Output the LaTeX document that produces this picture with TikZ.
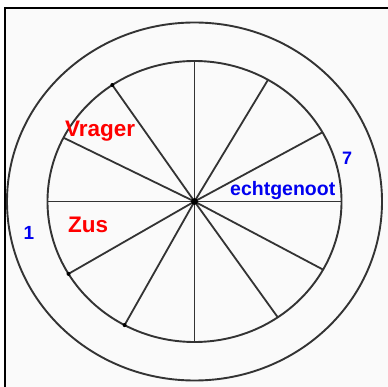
\documentclass[tikz,border=0pt]{standalone}
\usepackage{fontspec}
\setmainfont{Liberation Sans}
\usetikzlibrary{calc}
\definecolor{lbl red}{RGB}{255,0,0}
\definecolor{lbl blue}{RGB}{0,0,240}
\definecolor{paper}{RGB}{250,250,250}
\tikzset{
  ring/.style={draw=black!80, line width=1.9pt},
  spoke/.style={draw=black!80, line width=1.8pt},
  redlbl/.style={text=lbl red, font=\bfseries\fontsize{22.5}{24}\selectfont, inner sep=0pt, anchor=base west},
  bluelbl/.style={text=lbl blue, font=\bfseries\fontsize{19.5}{22}\selectfont, inner sep=0pt, anchor=base west},
  enddot/.style={fill=black, draw=none}
}
\begin{document}
\begin{tikzpicture}[x=1pt,y=-1pt]
\useasboundingbox (0,0) rectangle (388,387);
\fill[white] (0,0) rectangle (388,387);
\fill[paper] (4.7,8.3) rectangle (388,387);
\draw[black, line width=1.6pt] (4.7,387) -- (4.7,8.3) -- (388,8.3);
\coordinate (c) at (194.5,201.5);
% rings
\draw[ring] (c) ellipse [x radius=187.5, y radius=179];
\draw[ring] (c) ellipse [x radius=147, y radius=140.5];
% spoke end points
\foreach \n/\a in {a/0, b/29.5, d/60, e/90, f/124, g/153, h/180, i/211, j/241.6, k/270, l/304.5, m/331}{
  \coordinate (s\n) at ($(c)+({147*cos(\a)},{-140.5*sin(\a)})$);
  \draw[spoke] (c) -- (s\n);
}
\fill (c) circle (3.4);
\fill[enddot] (sf) circle (2);
\fill[enddot] (si) circle (2);
\fill[enddot] (sj) circle (2);
% labels
\node[redlbl] (vrager) at (65,137) {Vrager};
\node[redlbl] (zus) at (68,232.5) {Zus};
\node[bluelbl] (echt) at (230,195.5) {echtgenoot};
\node[bluelbl, font=\bfseries\fontsize{19}{22}\selectfont] (one) at (23.5,240) {1};
\node[bluelbl, font=\bfseries\fontsize{18}{22}\selectfont] (seven) at (342,165) {7};
\end{tikzpicture}
\end{document}
